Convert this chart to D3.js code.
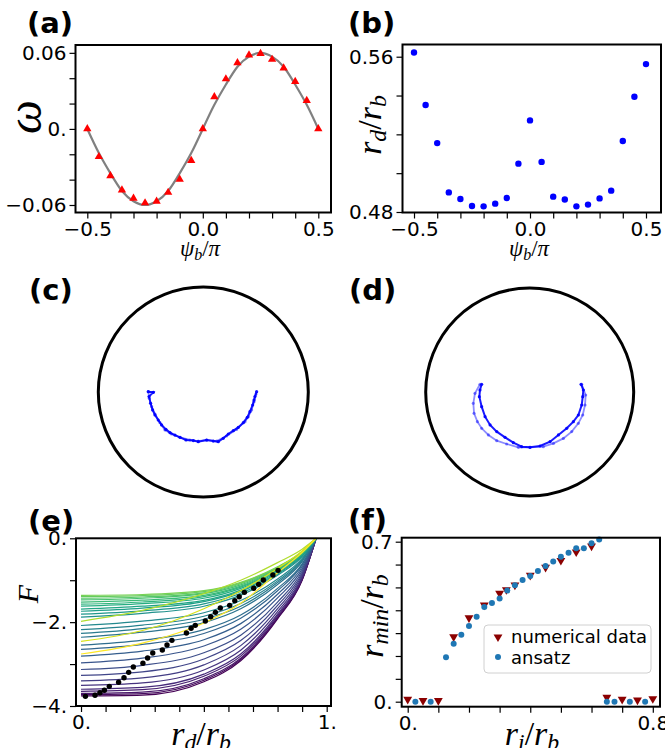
<!DOCTYPE html>
<html>
<head>
<meta charset="utf-8">
<script src="https://cdn.jsdelivr.net/npm/d3@7"></script>
<style>
  body { margin: 0; background: #fff; }
  svg { display: block; }
</style>
</head>
<body>
<script>
// ---- (a) omega vs psi_b/pi ----
const psiA = [-0.5, -0.45, -0.4, -0.35, -0.3, -0.25, -0.2, -0.15, -0.1, -0.05, 0,
              0.05, 0.1, 0.15, 0.2, 0.25, 0.3, 0.35, 0.4, 0.45, 0.5];
const omegaData = [0, -0.0219, -0.037, -0.0483, -0.0548, -0.0584, -0.0571, -0.0501, -0.0397, -0.025, 0,
                   0.0253, 0.0394, 0.0522, 0.0582, 0.0595, 0.0548, 0.048, 0.0373, 0.0224, 0];
const omegaFit = [0, -0.019, -0.035, -0.049, -0.057, -0.060, -0.057, -0.049, -0.035, -0.019, 0,
                  0.019, 0.035, 0.049, 0.057, 0.060, 0.057, 0.049, 0.035, 0.019, 0];

// ---- (b) r_d/r_b vs psi_b/pi ----
const rdB = [0.5622, 0.5351, 0.5155, 0.4901, 0.4867, 0.4831, 0.4829, 0.4843, 0.4872, 0.5049, 0.5272,
             0.5058, 0.4879, 0.4864, 0.4829, 0.4838, 0.487, 0.491, 0.5166, 0.5394, 0.5562];

const psiTicks = [-0.5, -0.4, -0.3, -0.2, -0.1, 0, 0.1, 0.2, 0.3, 0.4, 0.5];
const psiTickLabels = ["−0.5", "", "", "", "", "0.0", "", "", "", "", "0.5"];
const omegaTicks = [-0.06, -0.04, -0.02, 0, 0.02, 0.04, 0.06];
const omegaTickLabels = ["−0.06", "", "", "0.", "", "", "0.06"];
const rdTicks = [0.48, 0.5, 0.52, 0.54, 0.56];
const rdTickLabels = ["0.48", "", "", "", "0.56"];

// ---- (c), (d) trajectories, in units of r_b ----
const trajC = [[-0.524, 0.003], [-0.476, -0.003], [-0.517, -0.044], [-0.502, -0.108], [-0.483, -0.171],
  [-0.46, -0.219], [-0.429, -0.267], [-0.397, -0.314], [-0.356, -0.356], [-0.317, -0.387],
  [-0.27, -0.41], [-0.222, -0.432], [-0.165, -0.457], [-0.095, -0.463], [-0.048, -0.473],
  [0.032, -0.457], [0.095, -0.467], [0.143, -0.473], [0.19, -0.441], [0.238, -0.4],
  [0.286, -0.368], [0.333, -0.337], [0.381, -0.292], [0.419, -0.241], [0.444, -0.187],
  [0.47, -0.124], [0.483, -0.076], [0.492, -0.044], [0.508, 0.003]];
const trajCLight = [[-0.476, -0.003], [-0.524, 0.003], [-0.514, -0.06], [-0.492, -0.14], [-0.46, -0.21],
  [-0.413, -0.292], [-0.365, -0.362], [-0.302, -0.4], [-0.222, -0.432], [-0.127, -0.457],
  [-0.048, -0.467], [0.032, -0.457], [0.127, -0.467], [0.222, -0.419], [0.317, -0.356],
  [0.397, -0.283], [0.429, -0.235], [0.46, -0.171], [0.483, -0.092], [0.502, -0.019]];
const trajD = [[-0.462, 0.074], [-0.478, 0.019], [-0.484, -0.045], [-0.462, -0.141], [-0.429, -0.237],
  [-0.381, -0.317], [-0.317, -0.381], [-0.237, -0.436], [-0.157, -0.487], [-0.077, -0.526],
  [0.003, -0.532], [0.099, -0.519], [0.196, -0.478], [0.276, -0.413], [0.356, -0.349],
  [0.42, -0.285], [0.468, -0.221], [0.5, -0.125], [0.51, -0.045], [0.516, 0.019], [0.494, 0.074]];
const trajDLight = [[-0.478, 0.074], [-0.526, -0.013], [-0.542, -0.109], [-0.535, -0.205], [-0.503, -0.285],
  [-0.462, -0.349], [-0.397, -0.413], [-0.317, -0.468], [-0.221, -0.5], [-0.109, -0.532],
  [0.003, -0.532], [0.131, -0.526], [0.228, -0.494], [0.324, -0.446], [0.404, -0.381],
  [0.468, -0.301], [0.51, -0.221], [0.532, -0.125], [0.538, -0.029], [0.5, 0.074]];

// ---- (e) free energy curves F(r_d/r_b) ----
const rdGrid = [0, 0.25, 0.5, 0.65, 0.8, 0.9, 0.957];
const freeEnergy = [
  [-3.76, -3.74, -3.42, -2.92, -1.92, -1.00, 0],
  [-3.73, -3.705, -3.385, -2.89, -1.90, -0.99, 0],
  [-3.70, -3.67, -3.35, -2.86, -1.88, -0.98, 0],
  [-3.65, -3.61, -3.29, -2.81, -1.845, -0.96, 0],
  [-3.60, -3.555, -3.24, -2.76, -1.81, -0.94, 0],
  [-3.51, -3.45, -3.14, -2.67, -1.75, -0.91, 0],
  [-3.40, -3.33, -3.02, -2.56, -1.68, -0.87, 0],
  [-3.27, -3.185, -2.88, -2.44, -1.60, -0.83, 0],
  [-3.13, -3.03, -2.73, -2.31, -1.52, -0.78, 0],
  [-2.97, -2.86, -2.57, -2.17, -1.42, -0.73, 0],
  [-2.81, -2.69, -2.42, -2.035, -1.335, -0.68, 0],
  [-2.65, -2.53, -2.27, -1.905, -1.25, -0.635, 0],
  [-2.55, -2.43, -2.18, -1.83, -1.195, -0.61, 0],
  [-2.36, -2.24, -2.01, -1.68, -1.10, -0.555, 0],
  [-2.27, -2.155, -1.93, -1.62, -1.055, -0.53, 0],
  [-2.18, -2.07, -1.86, -1.555, -1.015, -0.51, 0],
  [-2.08, -1.975, -1.775, -1.485, -0.97, -0.48, 0],
  [-1.88, -1.79, -1.62, -1.355, -0.88, -0.435, 0],
  [-1.81, -1.73, -1.565, -1.31, -0.85, -0.42, 0],
  [-1.74, -1.665, -1.51, -1.265, -0.825, -0.40, 0],
  [-1.69, -1.62, -1.48, -1.235, -0.80, -0.39, 0],
  [-1.62, -1.56, -1.43, -1.195, -0.775, -0.375, 0],
  [-1.57, -1.52, -1.39, -1.165, -0.755, -0.365, 0],
  [-1.52, -1.475, -1.36, -1.14, -0.74, -0.355, 0],
  [-1.47, -1.43, -1.32, -1.11, -0.72, -0.34, 0],
  [-1.43, -1.40, -1.30, -1.085, -0.705, -0.335, 0],
  [-1.39, -1.365, -1.27, -1.065, -0.69, -0.325, 0],
  [-1.36, -1.34, -1.25, -1.05, -0.68, -0.32, 0],
  [-1.98, -1.72, -1.32, -1.00, -0.58, -0.26, 0],
  [-2.46, -2.20, -1.68, -1.25, -0.72, -0.30, 0],
  [-2.76, -2.50, -2.02, -1.55, -0.82, -0.34, 0]
];
// position of each curve on the viridis ramp
const curveColorRank = [0, 1, 2, 3, 4, 5, 6, 7, 8, 9, 10, 11, 12, 13, 14, 15, 16, 17, 18, 19,
                        20, 21, 22, 23, 24, 25, 26, 27, 30, 32, 34];
const minRd = [0.018, 0.057, 0.077, 0.095, 0.115, 0.153, 0.175, 0.194, 0.213, 0.252, 0.271, 0.292,
               0.331, 0.35, 0.37, 0.429, 0.448, 0.465, 0.506, 0.528, 0.547, 0.567, 0.605, 0.626,
               0.644, 0.665, 0.703, 0.723, 0.742, 0.781, 0.802];
const minF = [-3.77, -3.745, -3.683, -3.626, -3.531, -3.435, -3.325, -3.197, -3.07, -2.982, -2.856, -2.736,
              -2.665, -2.545, -2.434, -2.259, -2.147, -2.076, -1.973, -1.87, -1.766, -1.663, -1.599, -1.488,
              -1.393, -1.289, -1.193, -1.098, -0.995, -0.875, -0.764];
const eTicksX = [0, 0.1, 0.2, 0.3, 0.4, 0.5, 0.6, 0.7, 0.8, 0.9, 1];
const eTickLabelsX = ["0.", "", "", "", "", "", "", "", "", "", "1."];
const eTicksY = [-4, -3, -2, -1, 0];
const eTickLabelsY = ["−4.", "", "−2.", "", "0."];

// ---- (f) r_min/r_b vs r_i/r_b ----
const numRi = [0, 0.05, 0.1, 0.15, 0.2, 0.25, 0.3, 0.322, 0.35, 0.4, 0.45, 0.5, 0.55, 0.6,
               0.65, 0.7, 0.75, 0.8];
const numRmin = [0.01, 0.005, 0.005, 0.284, 0.367, 0.423, 0.474, 0.49, 0.51, 0.553, 0.588, 0.618, 0.655, 0.681,
                 0.019, 0.01, 0.007, 0.013];
const ansRi = [0.025, 0.075, 0.125, 0.15, 0.175, 0.2, 0.225, 0.25, 0.275, 0.3, 0.325, 0.35, 0.375, 0.4,
               0.425, 0.45, 0.475, 0.5, 0.525, 0.55, 0.575, 0.6, 0.625, 0.65, 0.675, 0.725, 0.775];
const ansRmin = [0, 0, 0.194, 0.254, 0.293, 0.331, 0.372, 0.414, 0.432, 0.451, 0.486, 0.509, 0.532, 0.55,
                 0.572, 0.594, 0.613, 0.634, 0.652, 0.671, 0.671, 0.693, 0.71, 0, 0, 0, 0];
const fTicksX = [0, 0.1, 0.2, 0.3, 0.4, 0.5, 0.6, 0.7, 0.8];
const fTickLabelsX = ["0.", "", "", "", "", "", "", "", "0.8"];
const fTicksY = [0, 0.1, 0.2, 0.3, 0.4, 0.5, 0.6, 0.7];
const fTickLabelsY = ["0.", "", "", "", "", "", "", "0.7"];
const legendNames = ["numerical data", "ansatz"];

const W = 665, H = 748;
const mathFont = "'Liberation Serif', 'DejaVu Serif', serif";

const svg = d3.select("body").append("svg")
    .attr("width", W)
    .attr("height", H)
    .attr("font-family", "'DejaVu Sans', sans-serif");

// one framed axes box with outward ticks
function makePanel(box, xDomain, yDomain, xt, xl, yt, yl) {
    const x = d3.scaleLinear().domain(xDomain).range([box.l, box.r]);
    const y = d3.scaleLinear().domain(yDomain).range([box.b, box.t]);
    const g = svg.append("g");

    const xAxis = g.append("g")
        .attr("transform", `translate(0,${box.b})`)
        .call(d3.axisBottom(x).tickValues(xt).tickFormat((d, i) => xl[i]).tickSize(6).tickPadding(3));
    const yAxis = g.append("g")
        .attr("transform", `translate(${box.l},0)`)
        .call(d3.axisLeft(y).tickValues(yt).tickFormat((d, i) => yl[i]).tickSize(6).tickPadding(3));
    [xAxis, yAxis].forEach(a => {
        a.select(".domain").remove();
        a.attr("font-size", 20).attr("font-family", "'DejaVu Sans', sans-serif");
        a.selectAll("line").attr("stroke", "#000").attr("stroke-width", 1.2);
        a.selectAll("text").attr("fill", "#000");
    });

    const plot = g.append("g");
    g.append("rect")
        .attr("x", box.l).attr("y", box.t)
        .attr("width", box.r - box.l).attr("height", box.b - box.t)
        .attr("fill", "none").attr("stroke", "#000").attr("stroke-width", 2);
    return { plot, x, y, g };
}

function panelLabel(txt, x, y) {
    svg.append("text")
        .attr("x", x).attr("y", y)
        .attr("font-size", 29)
        .attr("font-weight", "bold")
        .text(txt);
}

// math-like label: parts = [[text, isSub, upright], ...]
function mathLabel(parts, x, y, size, rotate) {
    const t = svg.append("text")
        .attr("transform", `translate(${x},${y})` + (rotate ? " rotate(-90)" : ""))
        .attr("text-anchor", "middle")
        .attr("font-family", mathFont)
        .attr("font-size", size);
    parts.forEach(([s, sub, upright]) => {
        const ts = t.append("tspan").text(s);
        if (!upright) ts.attr("font-style", "italic");
        if (sub) ts.attr("font-size", size * 0.7).attr("baseline-shift", "-22%");
    });
    return t;
}

// ---------------- (a) ----------------
{
    const p = makePanel({ l: 75.5, r: 331, t: 45, b: 212.5 }, [-0.5511, 0.555], [-0.06592, 0.06619],
        psiTicks, psiTickLabels, omegaTicks, omegaTickLabels);
    p.plot.append("path")
        .datum(psiA.map((v, i) => [v, omegaFit[i]]))
        .attr("fill", "none")
        .attr("stroke", "#808080")
        .attr("stroke-width", 2.2)
        .attr("d", d3.line().x(d => p.x(d[0])).y(d => p.y(d[1])).curve(d3.curveNatural));
    p.plot.selectAll(".tri")
        .data(psiA.map((v, i) => [v, omegaData[i]]))
        .join("path")
        .attr("transform", d => `translate(${p.x(d[0])},${p.y(d[1])})`)
        .attr("d", d3.symbol(d3.symbolTriangle, 30))
        .attr("fill", "#ff0000");
    panelLabel("(a)", 27, 33);
    mathLabel([["ω"]], 41, 117, 48, true);
    mathLabel([["ψ"], ["b", true], ["/", false, true], ["π"]], 200, 256, 23, false);
}

// ---------------- (b) ----------------
{
    const p = makePanel({ l: 402.5, r: 661, t: 44.5, b: 212.5 }, [-0.5496, 0.5647], [0.47974, 0.56629],
        psiTicks, psiTickLabels, rdTicks, rdTickLabels);
    p.plot.selectAll("circle")
        .data(psiA.map((v, i) => [v, rdB[i]]))
        .join("circle")
        .attr("cx", d => p.x(d[0]))
        .attr("cy", d => p.y(d[1]))
        .attr("r", 3.2)
        .attr("fill", "#0000ff");
    panelLabel("(b)", 348, 33);
    mathLabel([["r"], ["d", true], ["/", false, true], ["r"], ["b", true]], 381, 125, 34, true);
    mathLabel([["ψ"], ["b", true], ["/", false, true], ["π"]], 529, 256, 23, false);
}

// ---------------- (c), (d) ----------------
function drawDisk(cx, cy, R, mainPts, lightPts) {
    const x = d3.scaleLinear().domain([-1, 1]).range([cx - R, cx + R]);
    const y = d3.scaleLinear().domain([-1, 1]).range([cy + R, cy - R]);
    const g = svg.append("g");
    g.append("circle")
        .attr("cx", x(0)).attr("cy", y(0)).attr("r", x(1) - x(0))
        .attr("fill", "none").attr("stroke", "#000").attr("stroke-width", 3);
    const line = d3.line().x(d => x(d[0])).y(d => y(d[1]));
    [[lightPts, 0.45, 1.8], [mainPts, 0.9, 2]].forEach(([pts, op, w]) => {
        g.append("path").datum(pts)
            .attr("d", line)
            .attr("fill", "none")
            .attr("stroke", "#0000ff")
            .attr("stroke-opacity", op)
            .attr("stroke-width", w);
        g.append("g").selectAll("circle").data(pts).join("circle")
            .attr("cx", d => x(d[0])).attr("cy", d => y(d[1]))
            .attr("r", 1.6)
            .attr("fill", "#0000ff")
            .attr("fill-opacity", op);
    });
}
drawDisk(203.3, 392, 105, trajC, trajCLight);
drawDisk(529.7, 392, 104, trajD, trajDLight);
panelLabel("(c)", 29, 300);
panelLabel("(d)", 349, 300);

// ---------------- (e) ----------------
{
    const p = makePanel({ l: 76, r: 331, t: 538.3, b: 706 }, [-0.0204, 1.0175], [-4, 0],
        eTicksX, eTickLabelsX, eTicksY, eTickLabelsY);
    const color = d3.scaleSequential(d3.interpolateViridis).domain([0, 34]);
    const line = d3.line().x((d, i) => p.x(rdGrid[i])).y(d => p.y(d)).curve(d3.curveMonotoneX);
    p.plot.selectAll(".curve")
        .data(freeEnergy)
        .join("path")
        .attr("d", line)
        .attr("fill", "none")
        .attr("stroke", (d, i) => color(curveColorRank[i]))
        .attr("stroke-width", 1.2);
    p.plot.selectAll(".dot")
        .data(minRd.map((v, i) => [v, minF[i]]))
        .join("circle")
        .attr("cx", d => p.x(d[0]))
        .attr("cy", d => p.y(d[1]))
        .attr("r", 2.7)
        .attr("fill", "#000");
    panelLabel("(e)", 28, 531);
    mathLabel([["F"]], 38, 594, 30, true);
    mathLabel([["r"], ["d", true], ["/", false, true], ["r"], ["b", true]], 201, 745, 34, false);
}

// ---------------- (f) ----------------
{
    const p = makePanel({ l: 401.7, r: 660, t: 537.7, b: 706.7 }, [-0.0196, 0.8235], [-0.0219, 0.7175],
        fTicksX, fTickLabelsX, fTicksY, fTickLabelsY);
    const numColor = "#8b0000", ansColor = "#1f77b4";
    p.plot.selectAll(".num")
        .data(numRi.map((v, i) => [v, numRmin[i]]))
        .join("path")
        .attr("transform", d => `translate(${p.x(d[0])},${p.y(d[1])}) rotate(180)`)
        .attr("d", d3.symbol(d3.symbolTriangle, 34))
        .attr("fill", numColor);
    p.plot.selectAll(".ans")
        .data(ansRi.map((v, i) => [v, ansRmin[i]]))
        .join("circle")
        .attr("cx", d => p.x(d[0]))
        .attr("cy", d => p.y(d[1]))
        .attr("r", 3)
        .attr("fill", ansColor);

    // legend
    const lg = svg.append("g");
    lg.append("rect")
        .attr("x", 484).attr("y", 625).attr("width", 167).attr("height", 48)
        .attr("rx", 4)
        .attr("fill", "#fff").attr("fill-opacity", 0.8)
        .attr("stroke", "#d0d0d0").attr("stroke-width", 1);
    lg.append("path")
        .attr("transform", "translate(498,637) rotate(180)")
        .attr("d", d3.symbol(d3.symbolTriangle, 34))
        .attr("fill", numColor);
    lg.append("circle").attr("cx", 498).attr("cy", 657).attr("r", 3).attr("fill", ansColor);
    legendNames.forEach((n, i) => {
        lg.append("text")
            .attr("x", 511).attr("y", 643 + i * 21)
            .attr("font-size", 18)
            .text(n);
    });

    panelLabel("(f)", 348, 530);
    mathLabel([["r"], ["min", true], ["/", false, true], ["r"], ["b", true]], 383, 616, 34, true);
    mathLabel([["r"], ["i", true], ["/", false, true], ["r"], ["b", true]], 532, 745, 34, false);
}
</script>
</body>
</html>
